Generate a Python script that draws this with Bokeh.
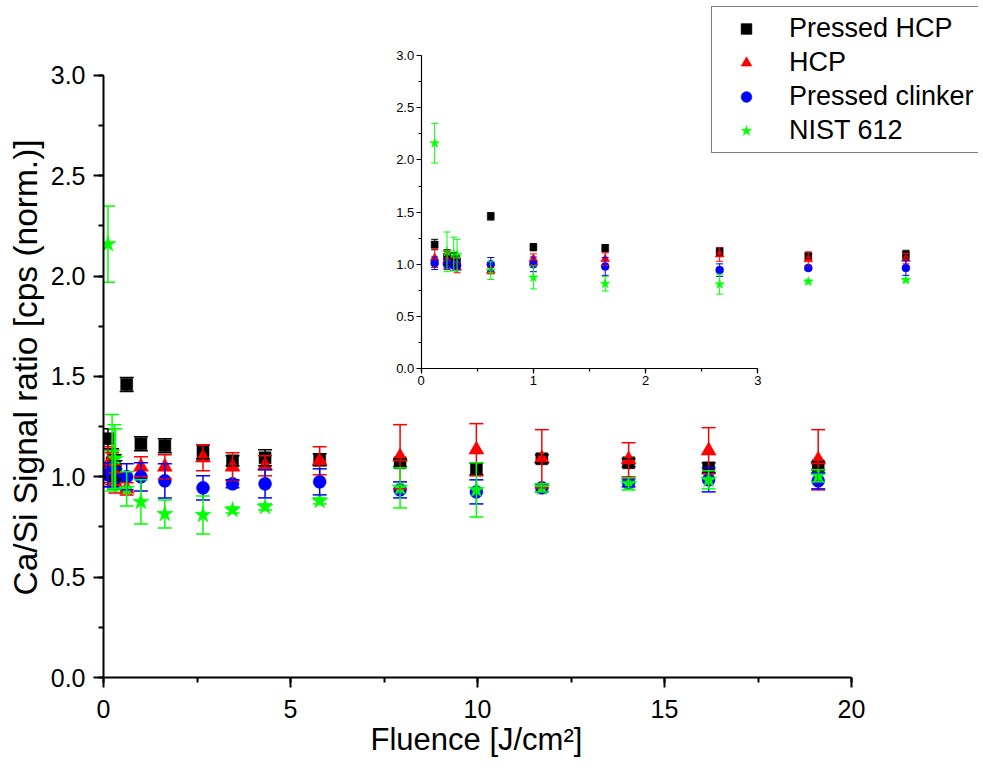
from bokeh.plotting import figure
from bokeh.models import (Range1d, LinearAxis, SingleIntervalTicker, PrintfTickFormatter, FixedTicker,
                          Whisker, TeeHead, ColumnDataSource, Legend, LegendItem, Title)
from bokeh.embed import file_html
from bokeh.resources import INLINE

# ---------------- data ----------------
fluence = [0.12, 0.23, 0.29, 0.32, 0.62, 1.0, 1.64, 2.66, 3.45, 4.32, 5.78,
           7.93, 9.97, 11.72, 14.04, 16.18, 19.11]

pressed_hcp = [1.19, 1.07, 1.05, 1.03, 1.46, 1.165, 1.155, 1.125, 1.08, 1.095, 1.085,
               1.07, 1.04, 1.09, 1.07, 1.045, 1.055]
pressed_hcp_err = [0.05, 0.07, 0.06, 0.05, 0.035, 0.035, 0.035, 0.035, 0.025, 0.04, 0.03,
                   0.02, 0.03, 0.02, 0.02, 0.025, 0.02]

hcp = [1.06, 1.04, 1.0, 0.97, 0.94, 1.05, 1.05, 1.095, 1.05, 1.055, 1.08,
       1.10, 1.135, 1.09, 1.085, 1.13, 1.085]
hcp_err = [0.09, 0.08, 0.06, 0.05, 0.03, 0.05, 0.06, 0.065, 0.07, 0.05, 0.07,
           0.16, 0.13, 0.145, 0.085, 0.115, 0.15]

pressed_clinker = [1.01, 1.0, 0.99, 0.99, 1.0, 1.0, 0.98, 0.945, 0.965, 0.965, 0.975,
                   0.935, 0.925, 0.945, 0.97, 0.985, 0.98]
pressed_clinker_err = [0.06, 0.05, 0.05, 0.05, 0.065, 0.07, 0.085, 0.06, 0.02, 0.07, 0.065,
                       0.04, 0.06, 0.02, 0.02, 0.06, 0.04]

nist_612 = [2.16, 1.12, 1.10, 1.09, 0.94, 0.875, 0.815, 0.81, 0.835, 0.85, 0.88,
            0.945, 0.935, 0.945, 0.965, 0.985, 1.005]
nist_612_err = [0.19, 0.19, 0.16, 0.15, 0.085, 0.11, 0.07, 0.095, 0.015, 0.015, 0.015,
                0.10, 0.135, 0.02, 0.03, 0.045, 0.03]

series_names = ["Pressed HCP", "HCP", "Pressed clinker", "NIST 612"]
series_colors = ["#000000", "#ff0000", "#0000ff", "#00ff00"]
series_markers = ["square", "triangle", "circle", "star"]

x_title = "Fluence [J/cm²]"
y_title = "Ca/Si Signal ratio [cps (norm.)]"

FONT = "Liberation Sans"

# ---------------- figure ----------------
W, H = 978, 774
LEFT, BOTTOM = 103, 97
frame_w = W - LEFT
frame_h = H - BOTTOM
main_xpx = 37.4       # px per x unit
main_ypx = 200.67     # px per y unit
ins_xpx = 112.2
ins_ypx = 104.43
ins_x0 = 420.7 - LEFT   # inset origin within frame (px)
ins_y0 = 368.3          # inset origin from top (px)

p = figure(width=W, height=H, output_backend="svg", toolbar_location=None,
           x_range=Range1d(0, frame_w / main_xpx), y_range=Range1d(0, frame_h / main_ypx),
           x_axis_type=None, y_axis_type=None,
           min_border_left=LEFT, min_border_right=0, min_border_top=0, min_border_bottom=BOTTOM)
p.outline_line_color = None
p.background_fill_color = "white"
p.border_fill_color = "white"

p.extra_x_ranges = {"ins": Range1d(-ins_x0 / ins_xpx, (frame_w - ins_x0) / ins_xpx)}
p.extra_y_ranges = {"ins": Range1d(-(frame_h - ins_y0) / ins_ypx, ins_y0 / ins_ypx)}


def style_axis(ax, lw, tick_out, minor_out, font_size):
    ax.axis_line_width = lw
    ax.axis_line_color = "black"
    ax.major_tick_line_width = lw
    ax.minor_tick_line_width = lw
    ax.major_tick_line_color = "black"
    ax.minor_tick_line_color = "black"
    ax.major_tick_in = 0
    ax.major_tick_out = tick_out
    ax.minor_tick_in = 0
    ax.minor_tick_out = minor_out
    ax.major_label_text_font = FONT
    ax.major_label_text_font_size = font_size
    ax.major_label_text_color = "black"


xax = LinearAxis(ticker=SingleIntervalTicker(interval=5, num_minor_ticks=2), bounds=(0, 20))
style_axis(xax, 2, 10, 5, "25px")
xax.major_label_standoff = 12
p.add_layout(xax, "below")

# empty spacer (no ticks, no line) between the tick labels and the x title
spacer = LinearAxis(ticker=FixedTicker(ticks=[]), axis_line_color=None,
                    major_tick_in=0, major_tick_out=15, minor_tick_in=0, minor_tick_out=0,
                    major_tick_line_color=None, minor_tick_line_color=None)
p.add_layout(spacer, "below")

yax = LinearAxis(ticker=SingleIntervalTicker(interval=0.5, num_minor_ticks=2), bounds=(0, 3),
                 formatter=PrintfTickFormatter(format="%.1f"))
style_axis(yax, 2, 10, 5, "25px")
yax.major_label_standoff = 8
p.add_layout(yax, "left")

# axis titles, placed in the side panels
p.add_layout(Title(text=x_title, align="left", offset=267, vertical_align="bottom", standoff=-1,
                   text_font=FONT, text_font_size="31px", text_font_style="normal",
                   text_color="black"), "below")
p.add_layout(Title(text=y_title, align="left", offset=82, vertical_align="bottom", standoff=7,
                   text_font=FONT, text_font_size="33.5px", text_font_style="normal",
                   text_color="black"), "left")

# inset axes
ixax = LinearAxis(x_range_name="ins", y_range_name="ins", fixed_location=0, bounds=(0, 3),
                  ticker=SingleIntervalTicker(interval=1, num_minor_ticks=2))
style_axis(ixax, 1.2, 5, 3, "13px")
ixax.major_label_standoff = 2
p.add_layout(ixax, "below")

iyax = LinearAxis(x_range_name="ins", y_range_name="ins", fixed_location=0, bounds=(0, 3),
                  ticker=SingleIntervalTicker(interval=0.5, num_minor_ticks=2),
                  formatter=PrintfTickFormatter(format="%.1f"))
style_axis(iyax, 1.2, 5, 3, "13px")
iyax.major_label_standoff = 2
p.add_layout(iyax, "left")


def draw(ys, errs, color, marker, size, cap, lw, rname):
    src = ColumnDataSource(dict(x=fluence, y=ys,
                                lo=[v - e for v, e in zip(ys, errs)],
                                hi=[v + e for v, e in zip(ys, errs)]))
    w = Whisker(source=src, base="x", upper="hi", lower="lo", dimension="height",
                line_color=color, line_width=lw,
                upper_head=TeeHead(size=cap, line_color=color, line_width=lw),
                lower_head=TeeHead(size=cap, line_color=color, line_width=lw),
                level="glyph", x_range_name=rname, y_range_name=rname)
    p.add_layout(w)
    r = p.scatter("x", "y", source=src, marker=marker, size=size,
                  fill_color=color, line_color=color, line_width=0.5,
                  x_range_name=rname, y_range_name=rname)
    return r


series_vals = [pressed_hcp, hcp, pressed_clinker, nist_612]
series_errs = [pressed_hcp_err, hcp_err, pressed_clinker_err, nist_612_err]
main_sizes = [12, 15, 13, 17]
inset_sizes = [7, 9, 8, 10]

main_renderers = []
for vals, errs, col, mk, sz in zip(series_vals, series_errs, series_colors, series_markers, main_sizes):
    main_renderers.append(draw(vals, errs, col, mk, sz, 14, 1.5, "default"))

for vals, errs, col, mk, sz in zip(series_vals, series_errs, series_colors, series_markers, inset_sizes):
    draw(vals, errs, col, mk, sz, 7, 1.0, "ins")

legend = Legend(items=[LegendItem(label=n, renderers=[r]) for n, r in zip(series_names, main_renderers)],
                location=(711 - LEFT, frame_h - 153))
legend.label_text_font = FONT
legend.label_text_font_size = "27px"
legend.label_text_color = "black"
legend.glyph_width = 56
legend.glyph_height = 27
legend.label_standoff = 15
legend.padding = 6
legend.spacing = 3
legend.margin = 0
legend.border_line_color = "black"
legend.border_line_width = 1.5
legend.background_fill_color = "white"
legend.background_fill_alpha = 1
p.add_layout(legend)

open("out.html", "w").write(file_html(p, INLINE))
